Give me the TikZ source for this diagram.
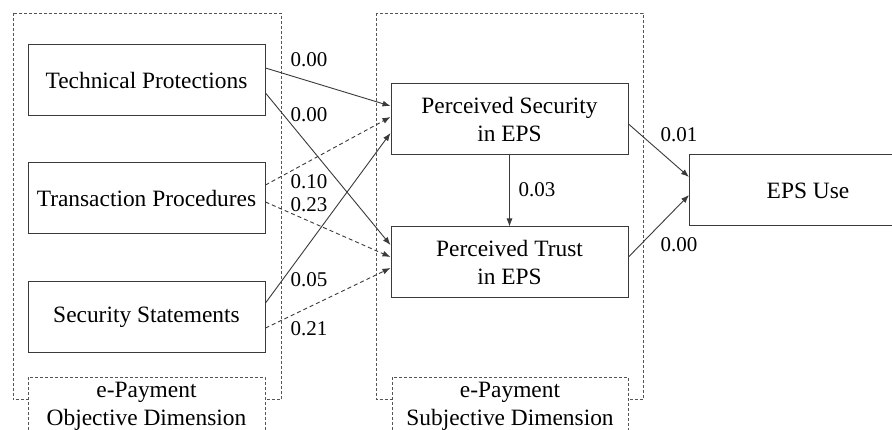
\documentclass[tikz,border=0pt]{standalone}
\usepackage{fontspec}
\setmainfont{Liberation Serif}
\newfontfamily\tnr{Liberation Serif}
\usetikzlibrary{arrows.meta}
\definecolor{ln}{HTML}{3A3A3A}
\definecolor{dsh}{HTML}{555555}
\begin{document}
\begin{tikzpicture}[x=1pt,y=-1pt,
  box/.style={draw=ln,line width=1pt,minimum width=237pt,minimum height=71pt,inner sep=0pt,align=center,text=black,font=\tnr\fontsize{23.4}{28}\selectfont},
  cont/.style={draw=dsh,line width=0.9pt,dash pattern=on 3pt off 2pt},
  wt/.style={font=\tnr\fontsize{21}{24}\selectfont,text=black,inner sep=0pt},
  arr/.style={draw=ln,line width=0.9pt,-{Latex[length=8pt,width=6pt]}},
  darr/.style={arr,dash pattern=on 4pt off 3pt},
  lab/.style={align=center,font=\tnr\fontsize{23.4}{28}\selectfont,text=black,inner sep=0pt}]
\useasboundingbox (0,0) rectangle (892,430);
\clip (0,0) rectangle (892,430);
\fill[white] (0,0) rectangle (892,430);
% containers
\draw[cont] (13,13) rectangle (281,399.5);
\draw[cont] (376,13) rectangle (643,399.5);
\fill[white] (28,377) rectangle (265,440);
\fill[white] (392,377) rectangle (628,440);
\draw[cont] (28,440) -- (28,377) -- (265,377) -- (265,440);
\draw[cont] (392,440) -- (392,377) -- (628,377) -- (628,440);
\node[lab] (objlab) at (146.5,406) {e-Payment\\Objective Dimension};
\node[lab] (sublab) at (510,406) {e-Payment\\Subjective Dimension};
% boxes
\node[box] (tp) at (146.5,80.5) {Technical Protections};
\node[box] (trp) at (146.5,198.5) {Transaction Procedures};
\node[box] (ss) at (146.5,317) {Security Statements};
\node[box] (ps) at (509.5,119.5) {Perceived Security\\in EPS};
\node[box] (pt) at (509.5,262.5) {Perceived Trust\\in EPS};
\node[box] (eps) at (808,190.5) {EPS Use};
% arrows
\draw[arr] ([yshift=12.5pt]tp.east) -- ([yshift=13.5pt]ps.west);
\draw[arr] ([yshift=-12.5pt]tp.east) -- ([yshift=17.5pt]pt.west);
\draw[darr] ([yshift=13.5pt]trp.east) -- ([yshift=2.5pt]ps.west);
\draw[darr] ([yshift=-3.5pt]trp.east) -- ([yshift=5.5pt]pt.west);
\draw[arr] ([yshift=14pt]ss.east) -- ([yshift=-13.5pt]ps.west);
\draw[darr] ([yshift=-11pt]ss.east) -- ([yshift=-5.5pt]pt.west);
\draw[arr] (ps.south) -- (pt.north);
\draw[arr] ([yshift=-4.5pt]ps.east) -- ([yshift=13.5pt]eps.west);
\draw[arr] ([yshift=5.5pt]pt.east) -- ([yshift=-4.5pt]eps.west);
% weights
\node[wt] (w1) at (309,60) {0.00};
\node[wt] (w2) at (309,115) {0.00};
\node[wt] (w3) at (309,182) {0.10};
\node[wt] (w4) at (309,205) {0.23};
\node[wt] (w5) at (309,280) {0.05};
\node[wt] (w6) at (309,329) {0.21};
\node[wt] (w7) at (537,190) {0.03};
\node[wt] (w8) at (679,135) {0.01};
\node[wt] (w9) at (679,245) {0.00};
\end{tikzpicture}
\end{document}
